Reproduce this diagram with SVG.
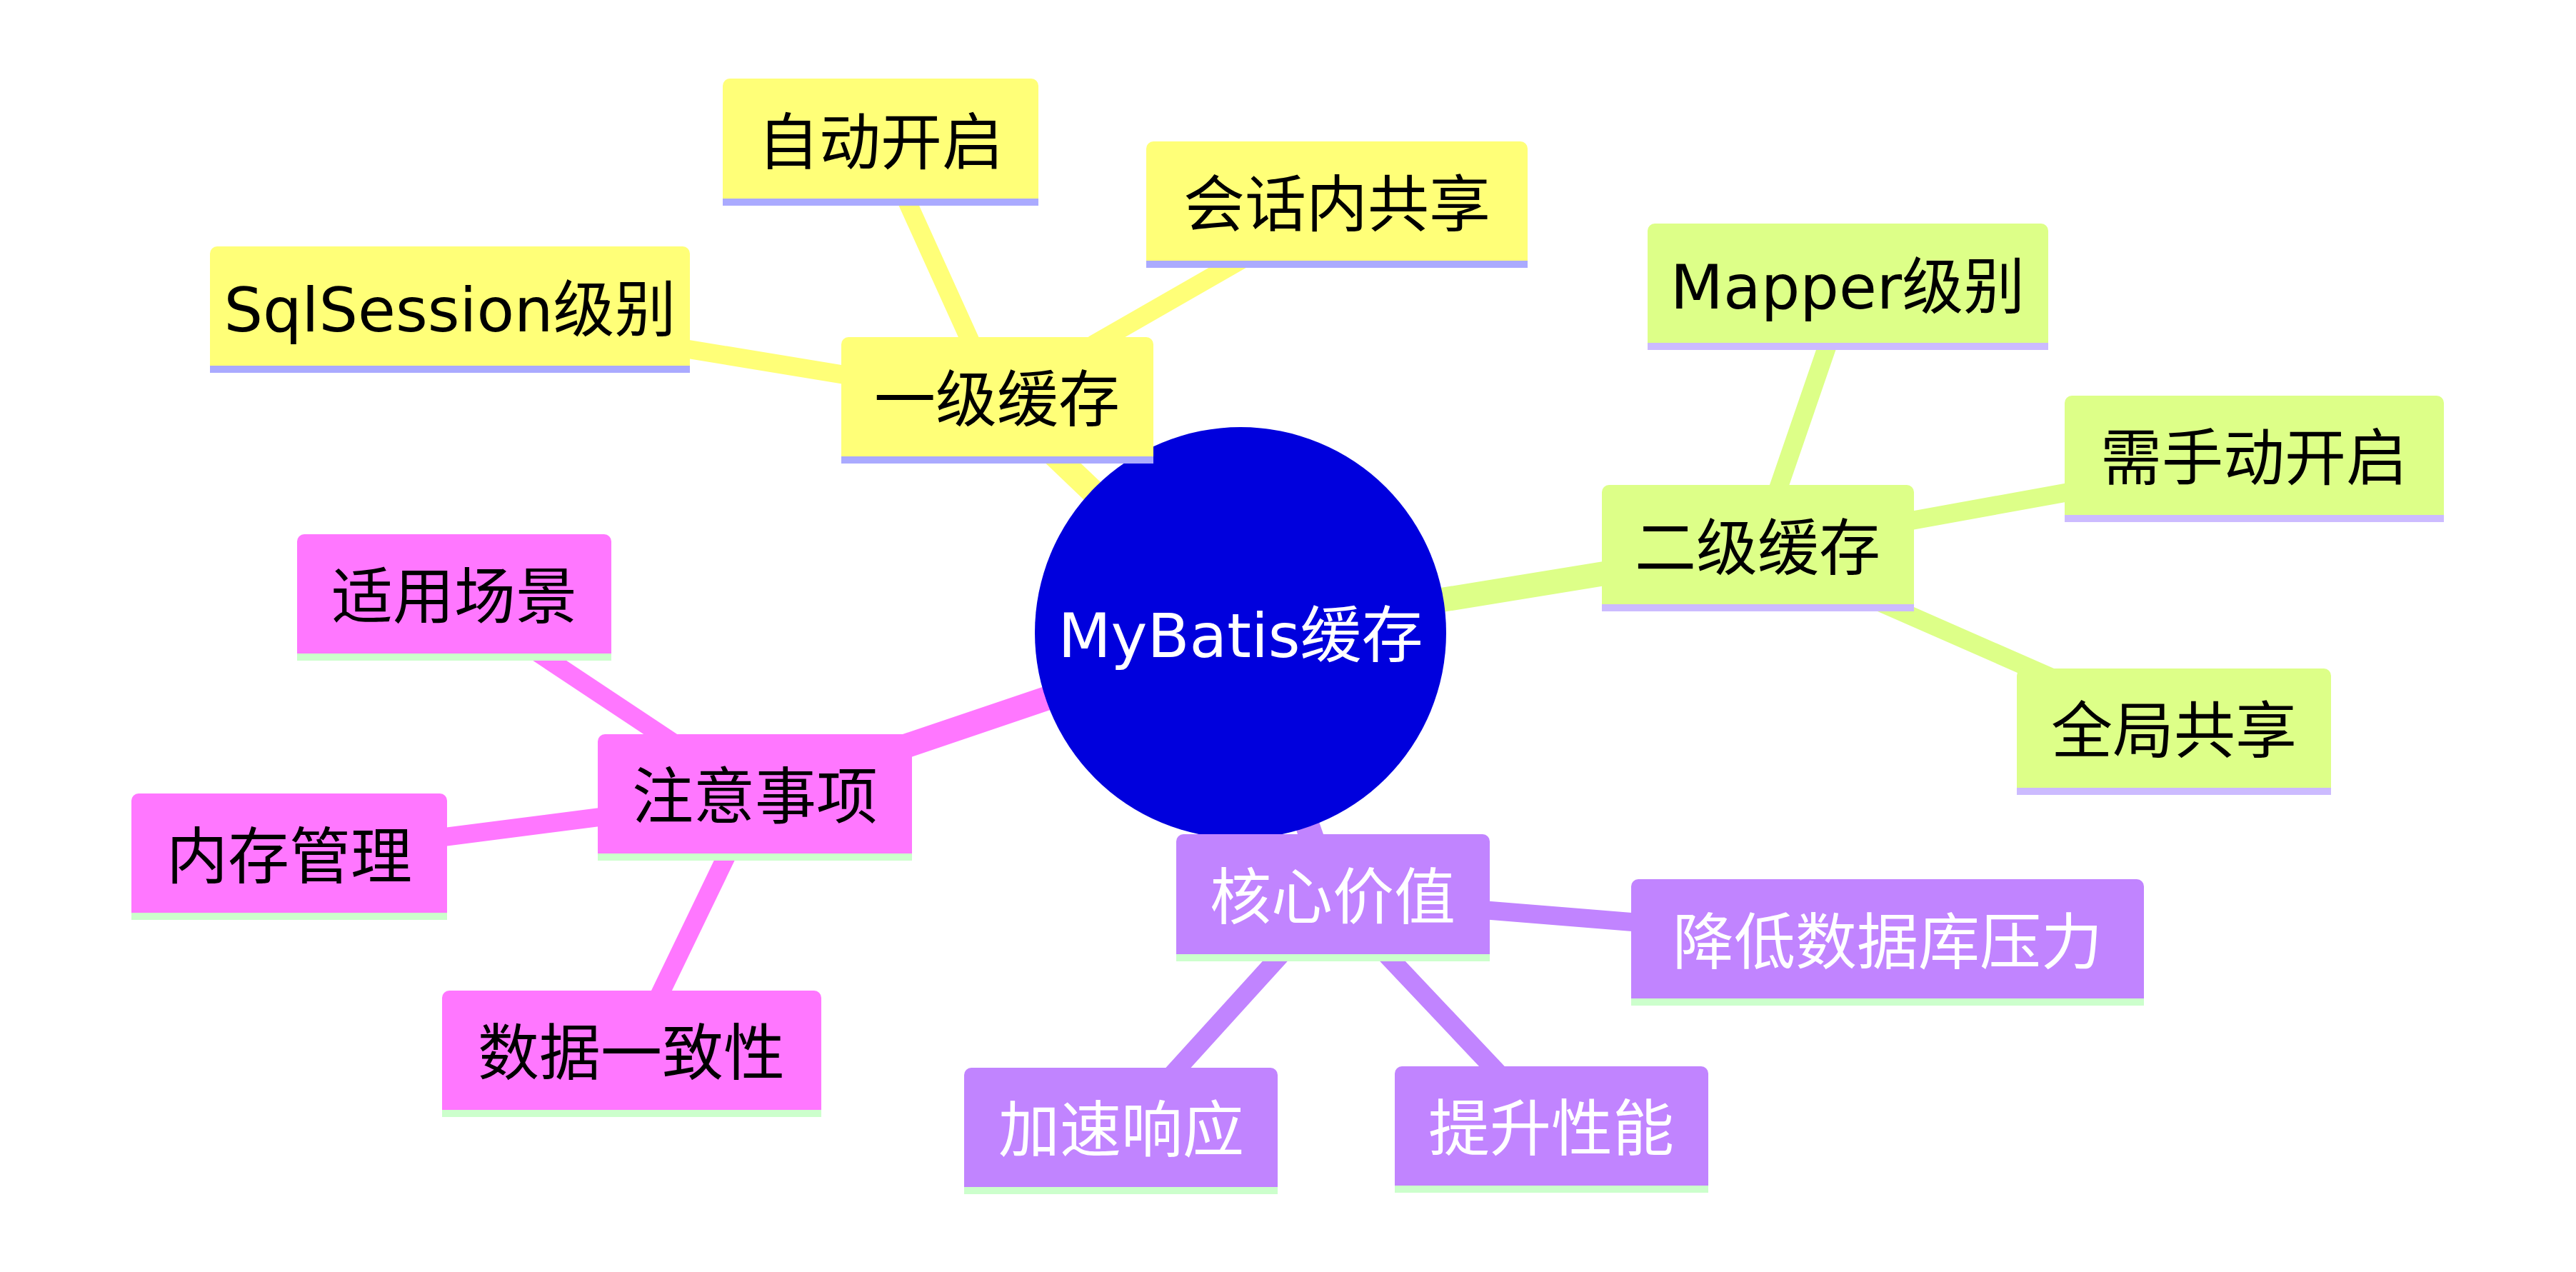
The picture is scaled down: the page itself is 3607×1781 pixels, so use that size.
<svg xmlns="http://www.w3.org/2000/svg" width="3607" height="1781" viewBox="0 0 3607 1781">
<style>
text{font-family:"DejaVu Sans","Noto Sans CJK SC",sans-serif;font-size:86px;text-anchor:middle;dominant-baseline:central}
.y{fill:#ffff78}.g{fill:#ddff88}.p{fill:#ff77ff}.v{fill:#c184ff}
.yl{stroke:#ffff78}.gl{stroke:#ddff88}.pl{stroke:#ff77ff}.vl{stroke:#c184ff}
.ub{fill:#aaaaff}.ul{fill:#ccbbff}.ug{fill:#ccffcc}
line{stroke-linecap:round}
.m{stroke-width:34}.s{stroke-width:26}
.w{fill:#fff}
</style>
<rect width="3607" height="1781" fill="#fff"/>
<g id="connectors">
<line class="yl m" x1="1737" y1="886" x2="1396" y2="560"/>
<line class="yl s" x1="1396" y1="560" x2="630" y2="434"/>
<line class="yl s" x1="1396" y1="560" x2="1233" y2="200"/>
<line class="yl s" x1="1396" y1="560" x2="1872" y2="287"/>
<line class="gl m" x1="1737" y1="886" x2="2461" y2="768"/>
<line class="gl s" x1="2461" y1="768" x2="2587" y2="402"/>
<line class="gl s" x1="2461" y1="768" x2="3156" y2="642"/>
<line class="gl s" x1="2461" y1="768" x2="3044" y2="1024"/>
<line class="pl m" x1="1737" y1="886" x2="1057" y2="1116"/>
<line class="pl s" x1="1057" y1="1116" x2="636" y2="836"/>
<line class="pl s" x1="1057" y1="1116" x2="405" y2="1200"/>
<line class="pl s" x1="1057" y1="1116" x2="884" y2="1475"/>
<line class="vl m" x1="1737" y1="886" x2="1866" y2="1257"/>
<line class="vl s" x1="1866" y1="1257" x2="2643" y2="1320"/>
<line class="vl s" x1="1866" y1="1257" x2="1570" y2="1583"/>
<line class="vl s" x1="1866" y1="1257" x2="2172" y2="1581"/>
</g>
<g id="root"><circle cx="1737" cy="886" r="288" fill="#0000dd"/><text x="1737" y="890" class="w">MyBatis缓存</text></g>
<g id="n1"><rect class="y" x="1178" y="472" width="437" height="177" rx="10"/><rect class="ub" x="1178" y="639" width="437" height="10"/><text x="1396" y="560">一级缓存</text></g>
<g id="n1a"><rect class="y" x="294" y="345" width="672" height="177" rx="10"/><rect class="ub" x="294" y="512" width="672" height="10"/><text x="630" y="434">SqlSession级别</text></g>
<g id="n1b"><rect class="y" x="1012" y="110" width="442" height="178" rx="10"/><rect class="ub" x="1012" y="278" width="442" height="10"/><text x="1233" y="200">自动开启</text></g>
<g id="n1c"><rect class="y" x="1605" y="198" width="534" height="177" rx="10"/><rect class="ub" x="1605" y="365" width="534" height="10"/><text x="1872" y="287">会话内共享</text></g>
<g id="n2"><rect class="g" x="2243" y="679" width="437" height="177" rx="10"/><rect class="ul" x="2243" y="846" width="437" height="10"/><text x="2461" y="768">二级缓存</text></g>
<g id="n2a"><rect class="g" x="2307" y="313" width="561" height="177" rx="10"/><rect class="ul" x="2307" y="480" width="561" height="10"/><text x="2587" y="402">Mapper级别</text></g>
<g id="n2b"><rect class="g" x="2891" y="554" width="531" height="177" rx="10"/><rect class="ul" x="2891" y="721" width="531" height="10"/><text x="3156" y="642">需手动开启</text></g>
<g id="n2c"><rect class="g" x="2824" y="936" width="440" height="177" rx="10"/><rect class="ul" x="2824" y="1103" width="440" height="10"/><text x="3044" y="1024">全局共享</text></g>
<g id="n3"><rect class="p" x="837" y="1028" width="440" height="177" rx="10"/><rect class="ug" x="837" y="1195" width="440" height="10"/><text x="1057" y="1116">注意事项</text></g>
<g id="n3a"><rect class="p" x="416" y="748" width="440" height="177" rx="10"/><rect class="ug" x="416" y="915" width="440" height="10"/><text x="636" y="836">适用场景</text></g>
<g id="n3b"><rect class="p" x="184" y="1111" width="442" height="177" rx="10"/><rect class="ug" x="184" y="1278" width="442" height="10"/><text x="405" y="1200">内存管理</text></g>
<g id="n3c"><rect class="p" x="619" y="1387" width="531" height="177" rx="10"/><rect class="ug" x="619" y="1554" width="531" height="10"/><text x="884" y="1475">数据一致性</text></g>
<g id="n4"><rect class="v" x="1647" y="1168" width="439" height="178" rx="10"/><rect class="ug" x="1647" y="1336" width="439" height="10"/><text x="1866" y="1257" class="w">核心价值</text></g>
<g id="n4a"><rect class="v" x="2284" y="1231" width="718" height="177" rx="10"/><rect class="ug" x="2284" y="1398" width="718" height="10"/><text x="2643" y="1320" class="w">降低数据库压力</text></g>
<g id="n4b"><rect class="v" x="1350" y="1495" width="439" height="177" rx="10"/><rect class="ug" x="1350" y="1662" width="439" height="10"/><text x="1570" y="1583" class="w">加速响应</text></g>
<g id="n4c"><rect class="v" x="1953" y="1493" width="439" height="177" rx="10"/><rect class="ug" x="1953" y="1660" width="439" height="10"/><text x="2172" y="1581" class="w">提升性能</text></g>
</svg>
